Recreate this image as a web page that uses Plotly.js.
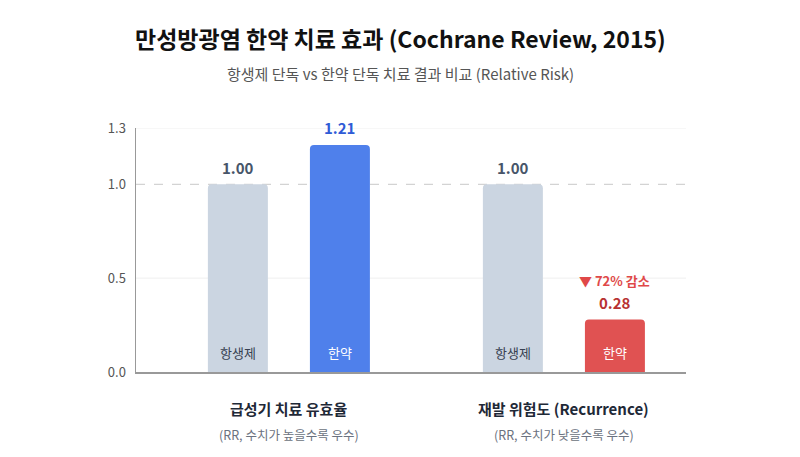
<!DOCTYPE html>
<html>
<head>
<meta charset="utf-8">
<script src="https://cdn.plot.ly/plotly-3.0.1.min.js"></script>
<style>
  html, body { margin: 0; padding: 0; background: #fff; }
  #chart { width: 800px; height: 457px; }
</style>
</head>
<body>
<div id="chart"></div>
<script>
// 데이터
var groups = ["급성기 치료 유효율", "재발 위험도 (Recurrence)"];
var groupNotes = ["(RR, 수치가 높을수록 우수)", "(RR, 수치가 낮을수록 우수)"];
var antibiotic = [1.00, 1.00];
var herbal = [1.21, 0.28];
var seriesNames = ["항생제", "한약"];
var herbalColors = ["#4F80EB", "#E05252"];
var herbalTextColors = ["#2F5BD6", "#B83232"];
var yTicks = [0, 0.5, 1.0, 1.3];

var FONT = "Noto Sans CJK KR, Noto Sans, sans-serif";
var xs = groups.map(function (g, i) { return i; });

var traces = [
  {
    type: "bar", name: seriesNames[0], x: xs, y: antibiotic,
    marker: { color: "#CBD5E1" }, hoverinfo: "skip"
  },
  {
    type: "bar", name: seriesNames[1], x: xs, y: herbal,
    marker: { color: herbalColors }, hoverinfo: "skip"
  }
];

var SHIFT = 51;
var annotations = [];
function note(o) {
  o.showarrow = false;
  o.yanchor = "middle";
  o.xanchor = "center";
  annotations.push(o);
}
xs.forEach(function (x, i) {
  // 값 라벨
  note({
    x: x, y: antibiotic[i], xref: "x", yref: "y", xshift: -SHIFT, yshift: 17,
    text: "<b>" + antibiotic[i].toFixed(2) + "</b>",
    font: { family: FONT, size: 15, color: "#475569" }
  });
  note({
    x: x, y: herbal[i], xref: "x", yref: "y", xshift: SHIFT, yshift: 17,
    text: "<b>" + herbal[i].toFixed(2) + "</b>",
    font: { family: FONT, size: 15, color: herbalTextColors[i] }
  });
  // 막대 안 라벨
  note({
    x: x, y: 0, xref: "x", yref: "y", xshift: -SHIFT, yshift: 20,
    text: seriesNames[0],
    font: { family: FONT, size: 13, color: "#374151" }
  });
  note({
    x: x, y: 0, xref: "x", yref: "y", xshift: SHIFT, yshift: 20,
    text: seriesNames[1],
    font: { family: FONT, size: 13, color: "#ffffff" }
  });
  // 그룹 라벨
  note({
    x: x, y: 0, xref: "x", yref: "paper", yshift: -36,
    text: "<b>" + groups[i] + "</b>",
    font: { family: FONT, size: 15, color: "#1F2937" }
  });
  note({
    x: x, y: 0, xref: "x", yref: "paper", yshift: -62,
    text: groupNotes[i],
    font: { family: FONT, size: 12.5, color: "#6B7280" }
  });
});

// 감소율
var drop = Math.round((1 - herbal[1] / antibiotic[1]) * 100);
note({
  x: xs[1], y: herbal[1], xref: "x", yref: "y", xshift: SHIFT, yshift: 39,
  text: "<b>▼ " + drop + "% 감소</b>",
  font: { family: FONT, size: 13, color: "#E04848" }
});

// 제목 (페이지 가운데)
var PAGE_CENTER = (400 - 136) / 550;
note({
  x: PAGE_CENTER, y: 1, xref: "paper", yref: "paper", yshift: 90,
  text: "<b>만성방광염 한약 치료 효과 (Cochrane Review, 2015)</b>",
  font: { family: FONT, size: 23, color: "#111111" }
});
note({
  x: PAGE_CENTER, y: 1, xref: "paper", yref: "paper", yshift: 55,
  text: "항생제 단독 vs 한약 단독 치료 결과 비교 (Relative Risk)",
  font: { family: FONT, size: 15, color: "#555555" }
});

// 보조선
var shapes = yTicks.filter(function (v) { return v > 0; }).map(function (v) {
  var ref = v === 1.0;
  return {
    type: "line", xref: "paper", x0: 0, x1: 1, yref: "y", y0: v, y1: v,
    line: { color: ref ? "#C8C8C8" : "#EFEFEF", width: 1, dash: ref ? "dash" : "solid" },
    layer: "below"
  };
});

var layout = {
  width: 800, height: 457,
  margin: { l: 136, r: 114, t: 128, b: 85 },
  paper_bgcolor: "#fff", plot_bgcolor: "#fff",
  showlegend: false,
  barmode: "group",
  bargap: 0.258,
  bargroupgap: 0.412,
  barcornerradius: 4,
  xaxis: {
    range: [-0.556, 1.444], showticklabels: false, showgrid: false, zeroline: false,
    showline: true, linecolor: "#999999", linewidth: 1.5, fixedrange: true
  },
  yaxis: {
    range: [0, 1.3], tickvals: yTicks, ticktext: yTicks.map(function (v) { return v.toFixed(1); }),
    showline: true, linecolor: "#999999", linewidth: 1.5,
    showgrid: false, zeroline: false, ticks: "", ticklabelstandoff: 6,
    tickfont: { family: FONT, size: 13, color: "#555555" }, fixedrange: true
  },
  shapes: shapes,
  annotations: annotations
};

Plotly.newPlot("chart", traces, layout, { displayModeBar: false, staticPlot: true });
</script>
</body>
</html>
